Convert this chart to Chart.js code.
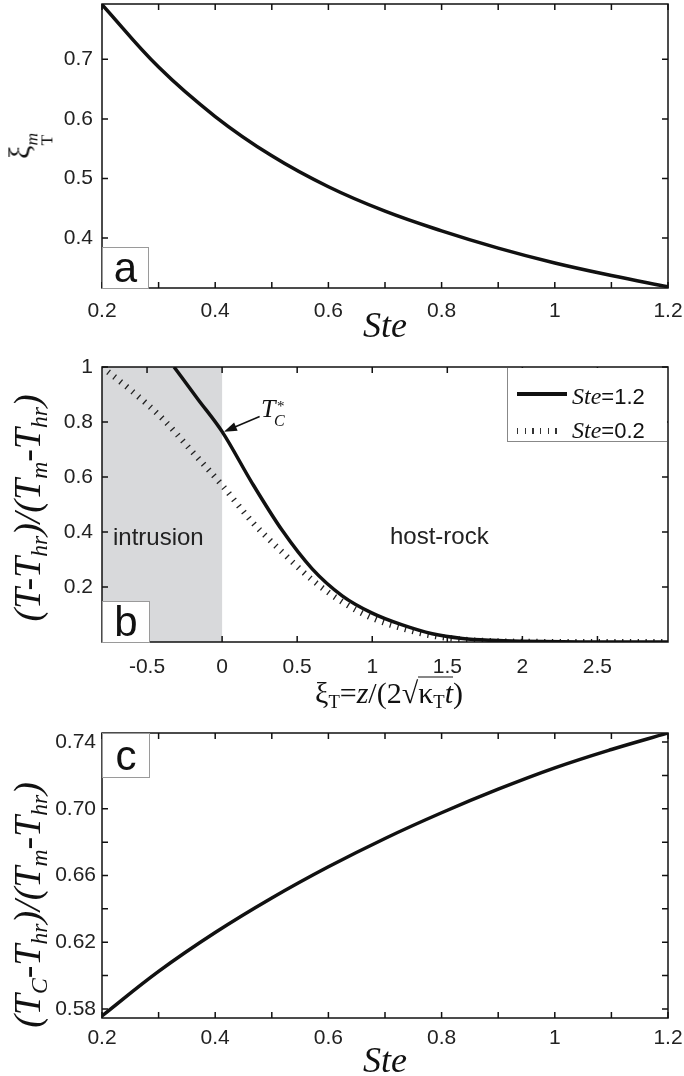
<!DOCTYPE html>
<html>
<head>
<meta charset="utf-8">
<script src="https://cdn.jsdelivr.net/npm/chart.js@4.4.1/dist/chart.umd.min.js"></script>
<style>
html, body { margin: 0; padding: 0; background: #fff; }
#page { position: relative; width: 684px; height: 1076px; overflow: hidden; }
canvas { position: absolute; left: 0; }
.t { position: absolute; white-space: nowrap; color: #111; line-height: 1; }
.serif { font-family: "Liberation Serif", "DejaVu Serif", serif; }
.sans { font-family: "Liberation Sans", Arial, sans-serif; }
.ctr { transform: translate(-50%, -50%); }
.rot { transform: translate(-50%, -50%) rotate(-90deg); }
.box { position: absolute; box-sizing: border-box; border: 1.5px solid #9a9a9a; background: #fff;
       font: 42px "Liberation Sans", Arial, sans-serif; color: #111;
       display: flex; align-items: center; justify-content: center; line-height: 1; }
sub { font-size: 0.62em; line-height: 0; vertical-align: -0.3em; }
.st { display: inline-flex; flex-direction: column; font-size: 0.58em; line-height: 0.9; vertical-align: -0.45em; }
.rad { display: inline-block; line-height: 0.95; border-top: 1.5px solid #111; padding-top: 1px; }
</style>
</head>
<body>
<div id="page">
  <canvas id="chartA" width="684" height="330" style="top:0"></canvas>
  <canvas id="chartB" width="684" height="360" style="top:340px"></canvas>
  <canvas id="chartC" width="684" height="366" style="top:710px"></canvas>

  <!-- panel a -->
  <div class="t serif rot" style="left:30px;top:146px;font-size:30px">ξ<span class="st"><i>m</i><span>T</span></span></div>
  <div class="t serif ctr" style="left:385px;top:325px;font-size:36px"><i>Ste</i></div>
  <div class="box" style="left:102px;top:247px;width:47px;height:42px">a</div>

  <!-- panel b -->
  <div class="t serif rot" style="left:27px;top:508px;font-size:38px"><i>(T-T<sub>hr</sub>)/(T<sub>m</sub>-T<sub>hr</sub>)</i></div>
  <div class="t serif ctr" style="left:389px;top:692px;font-size:30px">ξ<sub>T</sub>=<i>z</i>/(2√<span class="rad">κ<sub>T</sub><i>t</i></span>)</div>
  <div class="t sans" style="left:113px;top:525px;font-size:24px;color:#222">intrusion</div>
  <div class="t sans" style="left:390px;top:524px;font-size:24px;color:#222">host-rock</div>
  <div class="t serif" style="left:261px;top:396px;font-size:26px"><i>T</i></div>
  <div class="t serif" style="left:277px;top:399px;font-size:15px">*</div>
  <div class="t serif" style="left:274px;top:413px;font-size:16px"><i>C</i></div>
  <div class="box" style="left:102px;top:601px;width:48px;height:42px">b</div>
  <div style="position:absolute;left:507px;top:368px;width:160px;height:74px;background:#fff;border-left:1px solid #888;border-bottom:1px solid #888;box-sizing:border-box"></div>
  <div style="position:absolute;left:517px;top:392px;width:50px;height:4px;background:#111"></div>
  <div class="t" style="left:572px;top:384px;font-size:24px"><i class="serif">Ste</i><span class="sans" style="font-size:22px">=1.2</span></div>
  <div style="position:absolute;left:517px;top:428px;width:46px;height:6px;background:repeating-linear-gradient(to right,#333 0 1.3px,transparent 1.3px 7.7px)"></div>
  <div class="t" style="left:572px;top:418px;font-size:24px"><i class="serif">Ste</i><span class="sans" style="font-size:22px">=0.2</span></div>

  <!-- panel c -->
  <div class="t serif rot" style="left:27px;top:905px;font-size:38px"><i>(T<sub>C</sub>-T<sub>hr</sub>)/(T<sub>m</sub>-T<sub>hr</sub>)</i></div>
  <div class="t serif ctr" style="left:385px;top:1060px;font-size:36px"><i>Ste</i></div>
  <div class="box" style="left:102px;top:733px;width:48px;height:45px">c</div>
</div>

<script>
// panel a: melting-front position vs Stefan number
let steA = [0.2, 0.3, 0.4, 0.5, 0.6, 0.7, 0.8, 0.9, 1.0, 1.1, 1.2];
let xiM  = [0.792, 0.687, 0.604, 0.538, 0.486, 0.445, 0.412, 0.383, 0.358, 0.337, 0.318];

// panel b: temperature profiles
let xiB   = [-0.8, -0.6, -0.4, -0.2, 0, 0.2, 0.4, 0.6, 0.8, 1.0, 1.2, 1.4, 1.6, 1.8, 2.0, 2.5, 3.0];
let ste02 = [1.0, 0.912, 0.814, 0.693, 0.570, 0.437, 0.327, 0.226, 0.146, 0.087, 0.050, 0.023, 0.009, 0.003, 0.001, 0, 0];
let xiB12 = [-0.32, -0.16, 0, 0.2, 0.4, 0.6, 0.8, 1.0, 1.2, 1.4, 1.6, 1.8, 2.0, 2.5, 3.0];
let ste12 = [1.0, 0.882, 0.765, 0.578, 0.406, 0.266, 0.168, 0.105, 0.062, 0.030, 0.013, 0.006, 0.003, 0, 0];

// panel c: contact temperature vs Stefan number
let steC = [0.2, 0.3, 0.4, 0.5, 0.6, 0.7, 0.8, 0.9, 1.0, 1.1, 1.2];
let tcC  = [0.5758, 0.6025, 0.6258, 0.6465, 0.6652, 0.6822, 0.6976, 0.7117, 0.7245, 0.7355, 0.7454];

// ticks
let steTicks  = [0.2, 0.3, 0.4, 0.5, 0.6, 0.7, 0.8, 0.9, 1.0, 1.1, 1.2];
let steLabels = [0.2, 0.4, 0.6, 0.8, 1, 1.2];
let aYLabels  = [0.4, 0.5, 0.6, 0.7];
let bXLabels  = [-0.5, 0, 0.5, 1, 1.5, 2, 2.5];
let bYLabels  = [0.2, 0.4, 0.6, 0.8, 1];
let cYLabels  = [0.58, 0.62, 0.66, 0.70, 0.74];
let cYTicks   = [0.58, 0.60, 0.62, 0.64, 0.66, 0.68, 0.70, 0.72, 0.74];

let intrusion = [-0.8, 0];
let arrowTip  = {x: 0.012, y: 0.765};
let arrowTail = {x: 0.25, y: 0.82};

const pts = (xs, ys) => xs.map((v, i) => ({x: v, y: ys[i]}));

const frame = {
  id: 'frame',
  beforeDatasetsDraw(chart, args, o) {
    if (!o.shade) return;
    const {ctx, chartArea: a, scales: {x}} = chart;
    const x0 = x.getPixelForValue(o.shade[0]), x1 = x.getPixelForValue(o.shade[1]);
    ctx.save();
    ctx.fillStyle = '#d8d9db';
    ctx.fillRect(x0, a.top, x1 - x0, a.height);
    ctx.restore();
  },
  afterDatasetsDraw(chart, args, o) {
    const {ctx, chartArea: a, scales: {x, y}} = chart;
    ctx.save();
    ctx.strokeStyle = '#111';
    ctx.lineWidth = 1.5;
    ctx.beginPath();
    o.xTicks.forEach(v => {
      const p = x.getPixelForValue(v);
      ctx.moveTo(p, a.bottom); ctx.lineTo(p, a.bottom - 6);
      ctx.moveTo(p, a.top); ctx.lineTo(p, a.top + 6);
    });
    o.yTicks.forEach(v => {
      const p = y.getPixelForValue(v);
      ctx.moveTo(a.left, p); ctx.lineTo(a.left + 6, p);
      ctx.moveTo(a.right, p); ctx.lineTo(a.right - 6, p);
    });
    ctx.stroke();
    ctx.strokeRect(a.left, a.top, a.width, a.height);
    if (o.arrow) {
      const tx = x.getPixelForValue(o.arrow[0].x), ty = y.getPixelForValue(o.arrow[0].y);
      const sx = x.getPixelForValue(o.arrow[1].x), sy = y.getPixelForValue(o.arrow[1].y);
      const ang = Math.atan2(ty - sy, tx - sx);
      ctx.beginPath();
      ctx.moveTo(sx, sy); ctx.lineTo(tx - 10 * Math.cos(ang), ty - 10 * Math.sin(ang));
      ctx.stroke();
      ctx.fillStyle = '#111';
      ctx.beginPath();
      ctx.moveTo(tx, ty);
      ctx.lineTo(tx - 13 * Math.cos(ang) + 4.5 * Math.sin(ang), ty - 13 * Math.sin(ang) - 4.5 * Math.cos(ang));
      ctx.lineTo(tx - 13 * Math.cos(ang) - 4.5 * Math.sin(ang), ty - 13 * Math.sin(ang) + 4.5 * Math.cos(ang));
      ctx.closePath();
      ctx.fill();
    }
    ctx.restore();
  }
};

const tickFont = {family: '"Liberation Sans", Arial, sans-serif', size: 21};

function axis(min, max, labels, fmt, pad, fit) {
  return {
    type: 'linear', min: min, max: max,
    afterBuildTicks: s => { s.ticks = labels.map(v => ({value: v})); },
    ticks: {callback: fmt, font: tickFont, color: '#222', padding: pad, autoSkip: false, maxRotation: 0},
    grid: {display: false, drawTicks: false},
    border: {display: false},
    afterFit: s => { fit(s); s.paddingLeft = 0; s.paddingRight = 0; s.paddingTop = 0; s.paddingBottom = 0; }
  };
}

function solid(xs, ys, smooth) {
  const ds = {data: pts(xs, ys), showLine: true, borderColor: '#111', borderWidth: 3.5, pointRadius: 0, fill: false};
  if (smooth) ds.tension = 0.4; else ds.cubicInterpolationMode = 'monotone';
  return ds;
}

function base(padTop, scales, datasets, frameOpts) {
  return {
    type: 'scatter',
    data: {datasets: datasets},
    options: {
      responsive: false, animation: false, devicePixelRatio: 1,
      layout: {padding: {top: padTop, right: 16, left: 0, bottom: 0}},
      scales: scales,
      plugins: {legend: {display: false}, tooltip: {enabled: false}, frame: frameOpts}
    },
    plugins: [frame]
  };
}

new Chart(document.getElementById('chartA'), base(4, {
  x: axis(0.2, 1.2, steLabels, v => String(v), 11, s => { s.height = 42; }),
  y: axis(0.316, 0.793, aYLabels, v => v.toFixed(1), 9, s => { s.width = 102; })
}, [solid(steA, xiM, true)], {xTicks: steTicks, yTicks: aYLabels}));

new Chart(document.getElementById('chartB'), base(27, {
  x: axis(-0.8, 2.97, bXLabels, v => String(v), 13, s => { s.height = 58; }),
  y: axis(0, 1, bYLabels, v => String(v), 9, s => { s.width = 102; })
}, [
  solid(xiB12, ste12, false),
  {data: pts(xiB, ste02), showLine: true, borderColor: '#222', borderWidth: 6, borderDash: [1.3, 6.5],
   borderCapStyle: 'butt', pointRadius: 0, cubicInterpolationMode: 'monotone', fill: false}
], {xTicks: bXLabels, yTicks: bYLabels, shade: intrusion, arrow: [arrowTip, arrowTail]}));

new Chart(document.getElementById('chartC'), base(23, {
  x: axis(0.2, 1.2, steLabels, v => String(v), 8, s => { s.height = 58; }),
  y: axis(0.5746, 0.7454, cYLabels, v => v.toFixed(2), 6, s => { s.width = 102; })
}, [solid(steC, tcC, true)], {xTicks: steTicks, yTicks: cYTicks}));
</script>
</body>
</html>
